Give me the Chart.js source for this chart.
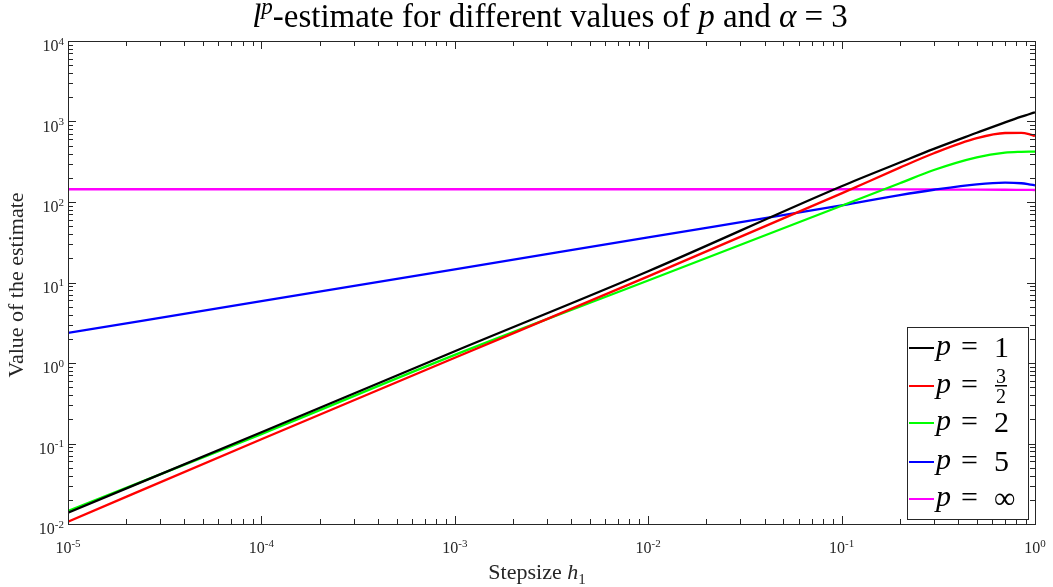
<!DOCTYPE html>
<html>
<head>
<meta charset="utf-8">
<script src="https://cdn.jsdelivr.net/npm/chart.js@4.4.0/dist/chart.umd.min.js"></script>
<style>
  html, body { margin: 0; padding: 0; background: #fff; }
  #wrap { width: 1053px; height: 587px; }
</style>
</head>
<body>
<div id="wrap"><canvas id="lpChart"></canvas></div>
<script>
// step sizes h_1 (x axis, log scale)
const stepsizes = [1e-5, 1e-4, 1e-3, 1e-2, 0.1, 0.2, 0.3, 0.5, 0.7, 0.85, 0.93, 1];

// estimate values, one array per p
const estP1 = [0.0138, 0.138, 1.40, 13.8, 157, 309, 457, 724, 977, 1150, 1230, 1303];
const estP32 = [0.0107, 0.113, 1.16, 11.9, 128, 267, 403, 620, 720, 722, 698, 660];
const estP2 = [0.0145, 0.131, 1.26, 10.6, 89.7, 171, 250, 359, 410, 420, 422, 422];
const estP5 = [2.36, 5.87, 14.6, 36.4, 90.6, 122, 142, 166, 174, 171, 166, 161];
const estPinf = [144, 144, 144, 144, 144, 143.5, 143, 142.5, 142, 141.5, 141.2, 141];

const seriesLabels = ['1', '3/2', '2', '5', '\u221E'];
const seriesColors = ['#000000', '#ff0000', '#00ff00', '#0000ff', '#ff00ff'];

// axis decades (exponents)
const xExponents = [-5, -4, -3, -2, -1, 0];
const yExponents = [-2, -1, 0, 1, 2, 3, 4];

const serif = '"Liberation Serif", "DejaVu Serif", serif';
const axisColor = '#262626';

function toPoints(ys) {
  return stepsizes.map((x, i) => ({ x, y: ys[i] }));
}

// draw a list of text segments ({t, italic, sup, sub}) starting at x
function drawSegments(ctx, segs, x, y, size, align) {
  const fontFor = s => `${s.italic ? 'italic ' : ''}${(s.sup || s.sub) ? Math.round(size * 0.7) : size}px ${serif}`;
  let total = 0;
  segs.forEach(s => { ctx.font = fontFor(s); total += ctx.measureText(s.t).width; });
  let cx = align === 'center' ? x - total / 2 : (align === 'right' ? x - total : x);
  ctx.textAlign = 'left';
  ctx.textBaseline = 'alphabetic';
  segs.forEach(s => {
    ctx.font = fontFor(s);
    let dy = 0;
    if (s.sup) dy = -size * 0.4;
    if (s.sub) dy = size * 0.22;
    ctx.fillText(s.t, cx, y + dy);
    cx += ctx.measureText(s.t).width;
  });
}

const decorPlugin = {
  id: 'decor',
  afterDraw(chart) {
    const ctx = chart.ctx;
    const area = chart.chartArea;
    const xs = chart.scales.x;
    const ys = chart.scales.y;
    ctx.save();

    // frame
    ctx.strokeStyle = axisColor;
    ctx.lineWidth = 1;
    ctx.strokeRect(Math.round(area.left) + 0.5, Math.round(area.top) + 0.5,
      Math.round(area.right - area.left), Math.round(area.bottom - area.top));

    // inward ticks
    ctx.beginPath();
    xExponents.forEach(e => {
      for (let k = 1; k <= 9; k++) {
        if (e === 0 && k > 1) break;
        const px = Math.round(xs.getPixelForValue(k * Math.pow(10, e))) + 0.5;
        const len = k === 1 ? 8 : 5;
        ctx.moveTo(px, area.bottom); ctx.lineTo(px, area.bottom - len);
        ctx.moveTo(px, area.top); ctx.lineTo(px, area.top + len);
      }
    });
    yExponents.forEach(e => {
      for (let k = 1; k <= 9; k++) {
        if (e === 4 && k > 1) break;
        const py = Math.round(ys.getPixelForValue(k * Math.pow(10, e))) + 0.5;
        const len = k === 1 ? 8 : 5;
        ctx.moveTo(area.left, py); ctx.lineTo(area.left + len, py);
        ctx.moveTo(area.right, py); ctx.lineTo(area.right - len, py);
      }
    });
    ctx.stroke();

    // tick labels
    ctx.fillStyle = axisColor;
    xExponents.forEach(e => {
      const px = xs.getPixelForValue(Math.pow(10, e));
      drawSegments(ctx, [{ t: '10' }, { t: String(e), sup: true }], px, 553, 16, 'center');
    });
    yExponents.forEach(e => {
      const py = ys.getPixelForValue(Math.pow(10, e));
      drawSegments(ctx, [{ t: '10' }, { t: String(e), sup: true }], area.left - 4, py + 10, 16, 'right');
    });

    // title
    ctx.fillStyle = '#000';
    drawSegments(ctx, [
      { t: 'l', italic: true }, { t: 'p', italic: true, sup: true },
      { t: '-estimate for different values of ' }, { t: 'p', italic: true },
      { t: ' and ' }, { t: '\u03B1', italic: true }, { t: ' = 3' }
    ], 550, 27, 33, 'center');

    // axis titles
    ctx.fillStyle = axisColor;
    drawSegments(ctx, [{ t: 'Stepsize ' }, { t: 'h', italic: true }, { t: '1', sub: true }], 537, 579, 22, 'center');
    ctx.save();
    ctx.translate(23, 285);
    ctx.rotate(-Math.PI / 2);
    drawSegments(ctx, [{ t: 'Value of the estimate' }], 0, 0, 22, 'center');
    ctx.restore();

    // legend
    const lx = 907, ly = 327, lw = 121, lh = 192;
    ctx.fillStyle = '#fff';
    ctx.fillRect(lx, ly, lw, lh);
    ctx.strokeStyle = axisColor;
    ctx.lineWidth = 1;
    ctx.strokeRect(lx + 0.5, ly + 0.5, lw, lh);
    const rowY = [348, 386, 423, 462, 499];
    chart.data.datasets.forEach((ds, i) => {
      const y = rowY[i];
      ctx.strokeStyle = ds.borderColor;
      ctx.lineWidth = 2;
      ctx.beginPath();
      ctx.moveTo(909, y); ctx.lineTo(934, y);
      ctx.stroke();
      ctx.fillStyle = '#000';
      drawSegments(ctx, [{ t: 'p', italic: true }], 936, y + 7, 30, 'left');
      ctx.font = `30px ${serif}`;
      ctx.fillText('=', 961, y + 8);
      const val = seriesLabels[i];
      if (val.includes('/')) {
        const [num, den] = val.split('/');
        ctx.font = `20px ${serif}`;
        ctx.textAlign = 'center';
        ctx.fillText(num, 1001, y - 3);
        ctx.fillText(den, 1001, y + 17);
        ctx.fillRect(995, y - 1, 12, 1.5);
        ctx.textAlign = 'left';
      } else {
        ctx.font = `30px ${serif}`;
        ctx.fillText(val, 994, y + 9);
      }
    });

    ctx.restore();
  }
};

new Chart(document.getElementById('lpChart').getContext('2d'), {
  type: 'line',
  data: {
    datasets: [estP1, estP32, estP2, estP5, estPinf].map((ys, i) => ({
      label: 'p = ' + seriesLabels[i],
      data: toPoints(ys),
      borderColor: seriesColors[i],
      borderWidth: 2.3,
      pointRadius: 0,
      fill: false,
      cubicInterpolationMode: 'monotone'
    }))
  },
  options: {
    responsive: true,
    maintainAspectRatio: false,
    animation: false,
    layout: { padding: { left: 68, right: 18, top: 41, bottom: 63 } },
    plugins: {
      legend: { display: false },
      title: { display: false },
      tooltip: { enabled: false }
    },
    scales: {
      x: { type: 'logarithmic', min: 1e-5, max: 1, display: false },
      y: { type: 'logarithmic', min: 1e-2, max: 1e4, display: false }
    }
  },
  plugins: [decorPlugin]
});
</script>
</body>
</html>
